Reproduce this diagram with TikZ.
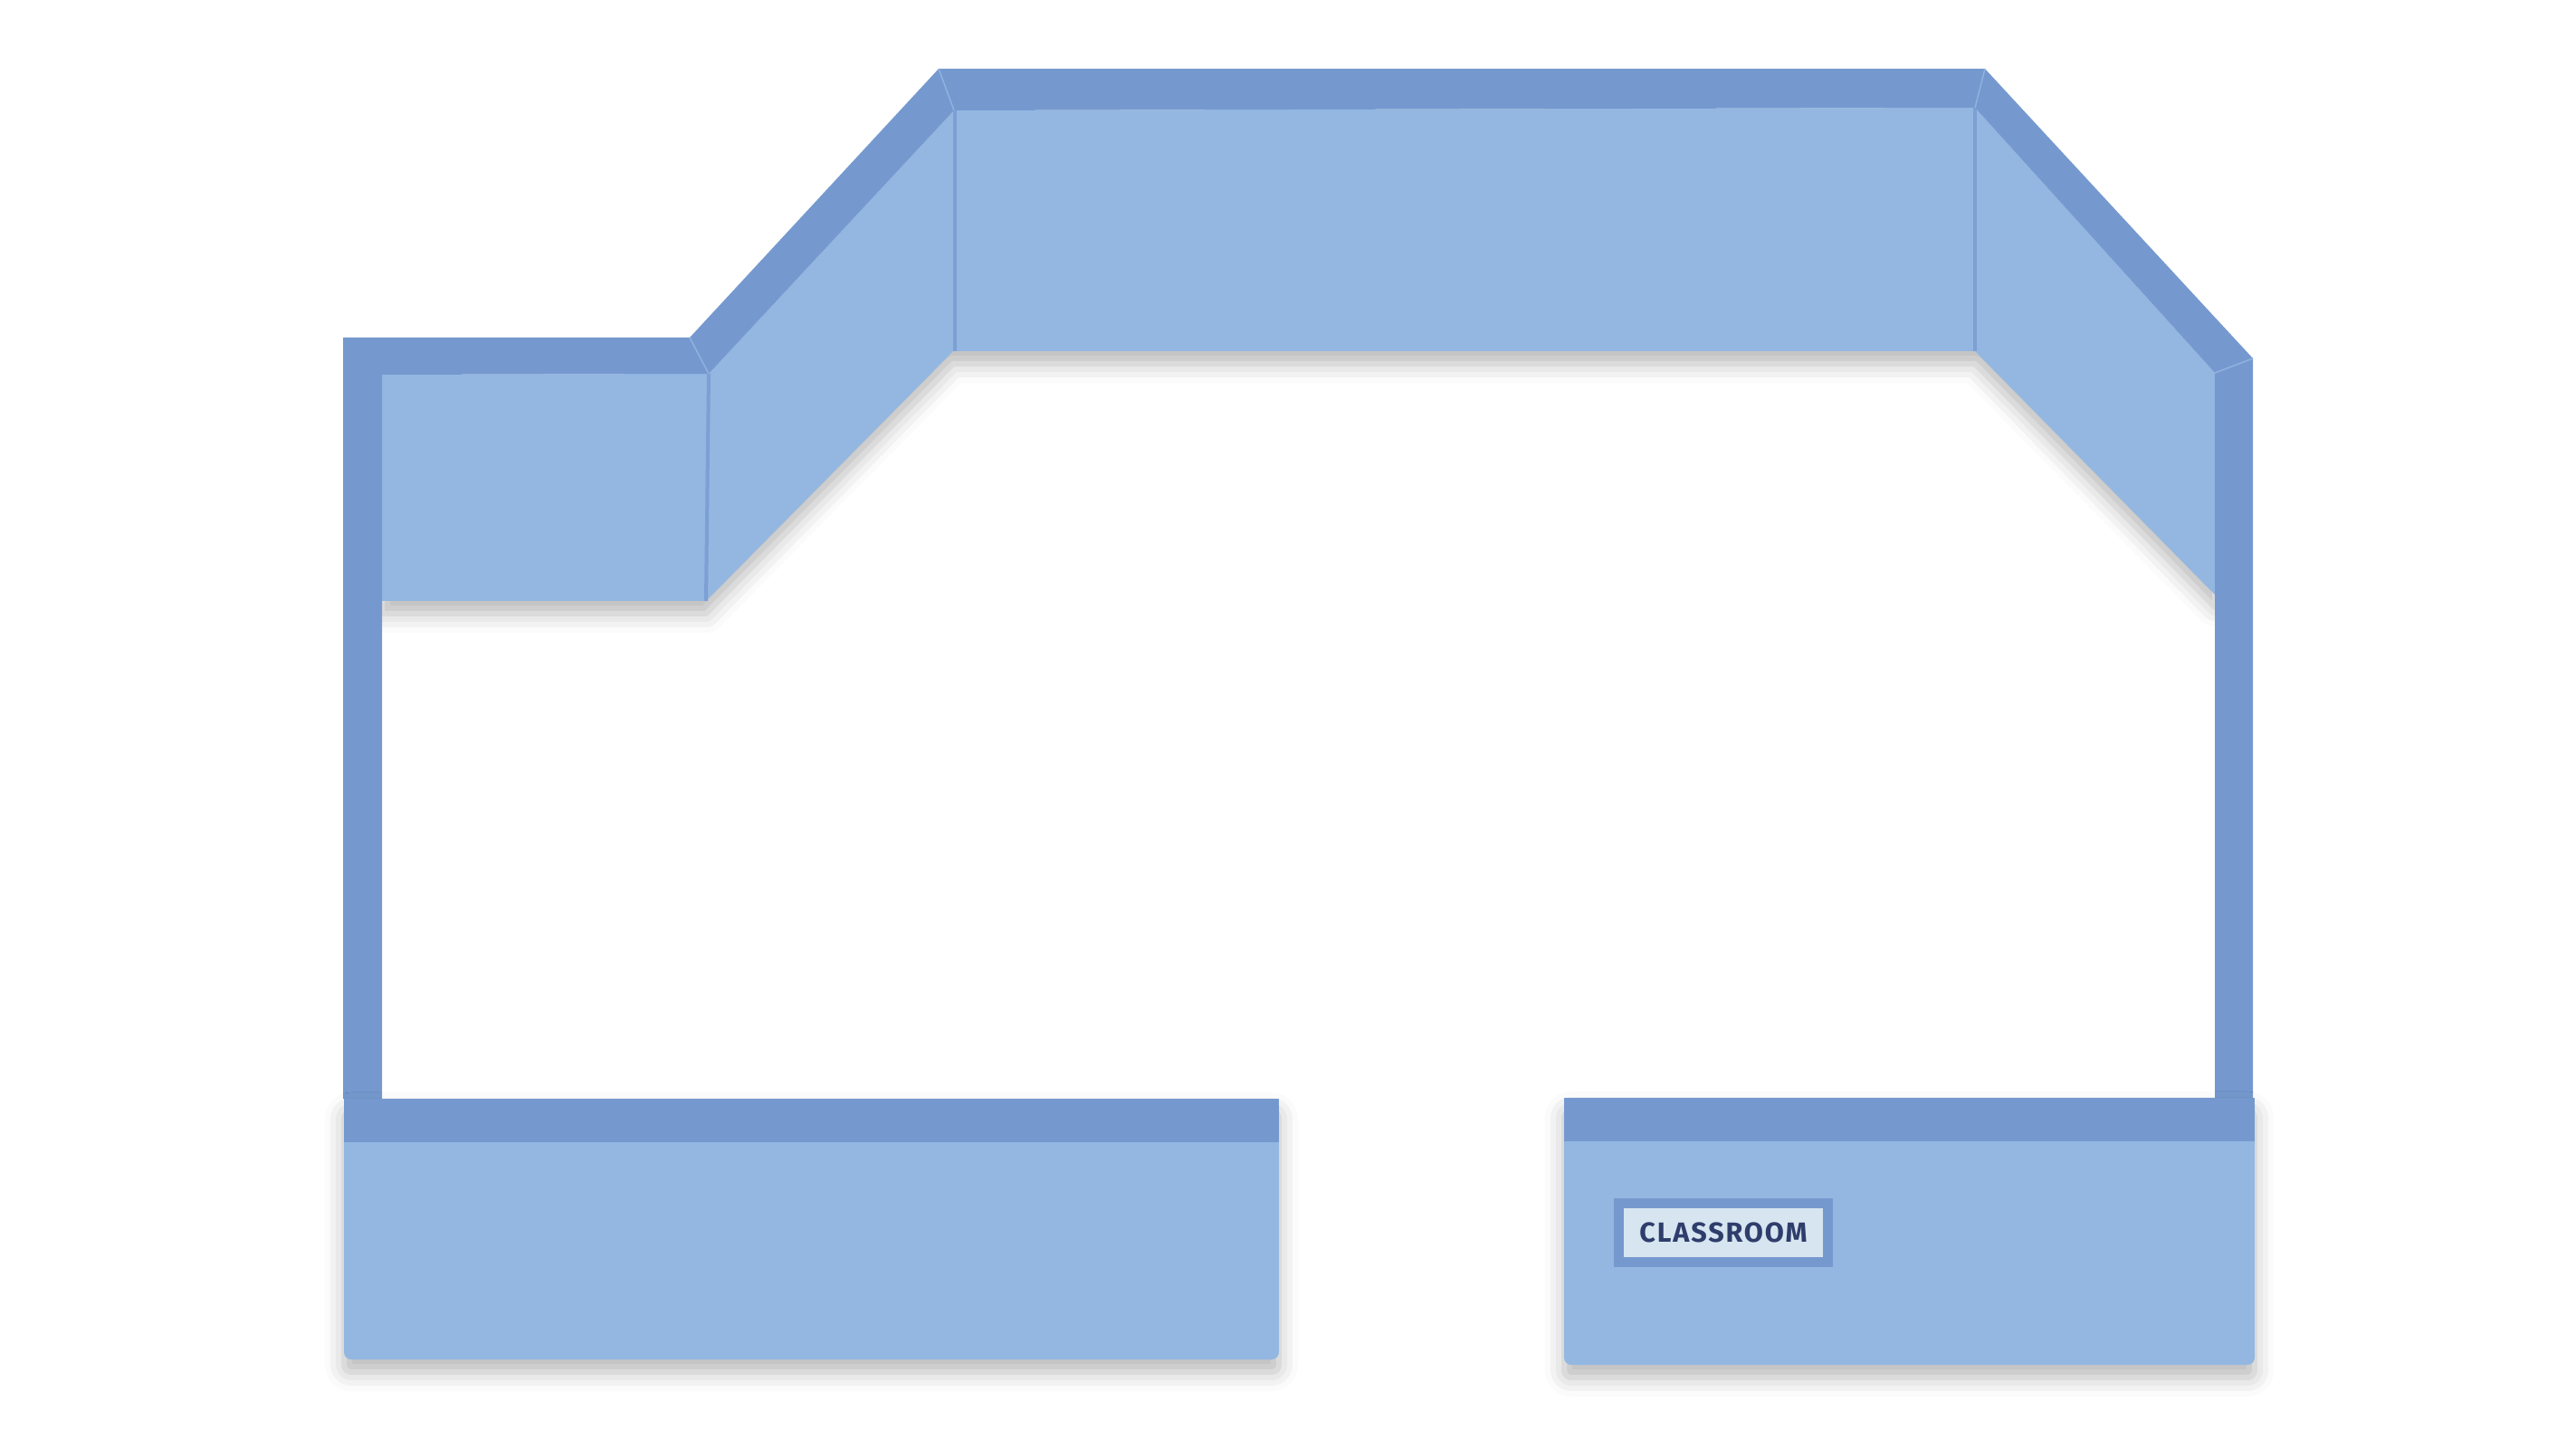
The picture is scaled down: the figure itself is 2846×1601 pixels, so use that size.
\documentclass[tikz,border=0pt]{standalone}
\usepackage{fontspec}
\newfontfamily\tagfont[LetterSpace=6]{Fira Sans}
\usetikzlibrary{shadows.blur}
\definecolor{walltone}{HTML}{7599CF}
\definecolor{paneltone}{HTML}{93B7E1}
\definecolor{seamtone}{HTML}{7C9FD4}
\definecolor{jointtone}{HTML}{8FB2DF}
\definecolor{tagfill}{HTML}{D7E5F0}
\definecolor{tagtext}{HTML}{2E3D6B}

\begin{document}
\begin{tikzpicture}[x = 0.01cm, y = -0.01cm,
  wallpart/.style = {fill = walltone},
  panelpart/.style = {fill = paneltone},
  softshadow/.style = {blur shadow = {shadow xshift = 0pt, shadow yshift = -4pt, shadow blur radius = 6pt, shadow opacity = 28}},
  seamline/.style = {draw = seamtone, line width = 0.04cm},
  jointline/.style = {draw = jointtone, line width = 0.015cm},
  tagbox/.style = {fill = tagfill, draw = walltone, line width = 0.11cm, minimum width = 2.3cm, minimum height = 0.65cm, inner sep = 0pt, text = tagtext, font = \tagfont\bfseries\fontsize{8.7}{10}\selectfont}]

\useasboundingbox (0, 0) rectangle (2846, 1601);

% panels behind the walls
\path[panelpart, softshadow] (422, 414) -- (783, 413) -- (1054, 122) -- (2182, 119) -- (2447, 412) -- (2447, 657) -- (2182, 388) -- (1053, 388) -- (780, 664) -- (422, 664) -- cycle;
\path[seamline] (783, 413) -- (780, 664);\path[seamline] (1055, 122) -- (1055, 388);\path[seamline] (2182, 119) -- (2182, 388);

% walls
\path[wallpart] (379, 1214) -- (379, 373) -- (762, 373) -- (1037, 76) -- (2193, 76) -- (2489, 396) -- (2489, 1214) -- (2447, 1214) -- (2447, 412) -- (2182, 119) -- (1054, 122) -- (783, 413) -- (422, 414) -- (422, 1214) -- cycle;
\path[jointline] (762, 373) -- (783, 413);\path[jointline] (1037, 76) -- (1054, 122);\path[jointline] (2193, 76) -- (2182, 119);\path[jointline] (2489, 396) -- (2447, 412);

% bottom blocks
\path[panelpart, softshadow, rounded corners = 0.08cm] (380, 1214) rectangle (1413, 1502);
\path[wallpart] (380, 1214) rectangle (1413, 1262);
\path[panelpart, softshadow, rounded corners = 0.08cm] (1728, 1213) rectangle (2491, 1508);
\path[wallpart] (1728, 1213) rectangle (2491, 1261);

\node[tagbox] (classroomtag) at (1904, 1362){CLASSROOM};
\end{tikzpicture}
\end{document}
